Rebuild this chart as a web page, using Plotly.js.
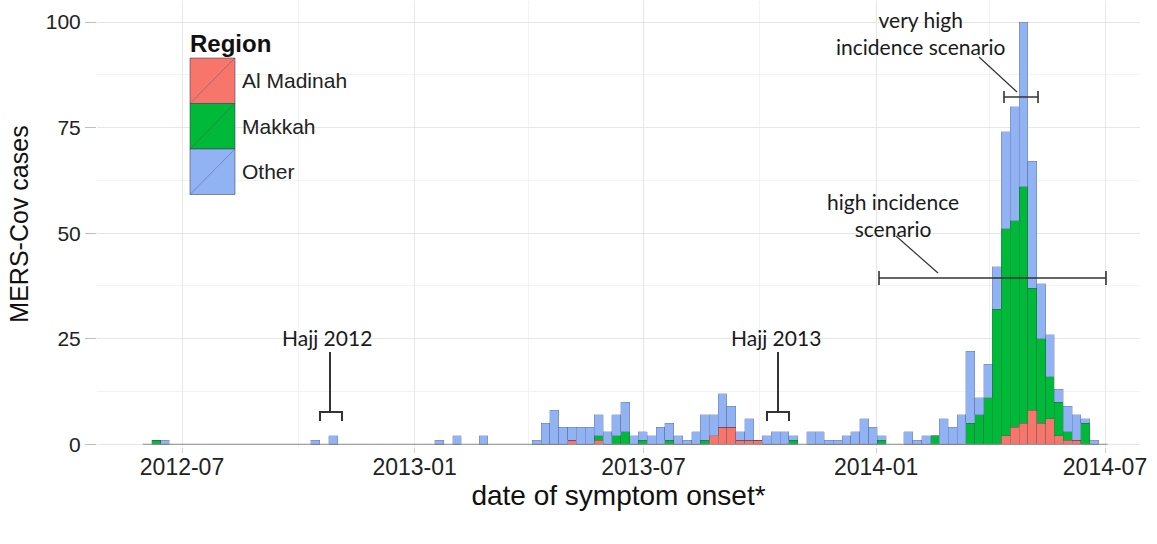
<!DOCTYPE html>
<html>
<head>
<meta charset="utf-8">
<script src="https://cdn.plot.ly/plotly-3.0.1.min.js"></script>
<style>
html,body{margin:0;padding:0;background:#fff;}
#chart{width:1157px;height:544px;}
</style>
</head>
<body>
<div id="chart"></div>
<script>
// ---- data: weekly MERS-CoV case counts (week start dates, 7-day bins) ----
const weekStart = [
 '2012-06-07','2012-06-14','2012-10-11','2012-10-25','2013-01-17','2013-01-31','2013-02-21',
 '2013-04-04','2013-04-11','2013-04-18','2013-04-25','2013-05-02','2013-05-09','2013-05-16','2013-05-23',
 '2013-05-30','2013-06-06','2013-06-13','2013-06-20','2013-06-27','2013-07-04','2013-07-11','2013-07-18',
 '2013-07-25','2013-08-01','2013-08-08','2013-08-15','2013-08-22','2013-08-29','2013-09-05','2013-09-12',
 '2013-09-19','2013-09-26','2013-10-03','2013-10-10','2013-10-17','2013-10-24','2013-11-07','2013-11-14',
 '2013-11-21','2013-11-28','2013-12-05','2013-12-12','2013-12-19','2013-12-26','2014-01-02','2014-01-23',
 '2014-01-30','2014-02-06','2014-02-13','2014-02-20','2014-02-27','2014-03-06','2014-03-13','2014-03-20',
 '2014-03-27','2014-04-03','2014-04-10','2014-04-17','2014-04-24','2014-05-01','2014-05-08','2014-05-15',
 '2014-05-22','2014-05-29','2014-06-05','2014-06-12','2014-06-19'
];
const alMadinah = [
 0,0,0,0,0,0,0,
 0,0,0,0,1,0,0,1,
 0,0,0,0,0,0,0,0,
 0,0,0,0,2,4,4,1,
 1,1,0,0,0,0,0,0,
 0,0,0,0,0,0,0,0,
 0,0,0,0,0,0,0,0,
 0,0,2,4,5,8,5,6,
 2,1,1,0,0
];
const makkah = [
 1,0,0,0,0,0,0,
 0,0,0,0,0,0,0,1,
 0,2,3,0,1,0,0,1,
 0,0,0,1,0,0,0,0,
 0,0,0,0,0,1,0,0,
 0,0,0,0,0,0,1,0,
 0,0,2,0,0,0,5,7,
 11,32,49,49,56,29,20,10,
 8,2,0,5,0
];
const other = [
 0,1,1,2,1,2,2,
 1,5,8,4,3,4,4,5,
 3,5,7,2,2,2,4,4,
 2,1,3,6,5,8,5,2,
 5,0,2,3,3,1,3,3,
 1,1,2,3,6,4,1,3,
 1,2,0,6,4,7,17,4,
 8,10,23,27,39,30,13,10,
 3,6,6,1,1
];
const regions = ['Al Madinah','Makkah','Other'];
const regionColors = ['#F6766C','#00B938','#92B3F3'];
const binWidthDays = 7;
const histStart = '2012-05-31';   // first histogram break
const histEnd   = '2014-07-03';   // last histogram break
const yTickVals = [0,25,50,75,100];
const annotationTexts = ['Hajj 2012','Hajj 2013','very high<br>incidence scenario','high incidence<br>scenario'];

// ---- geometry helpers ----
const W = 1157, H = 544;
const M = {l:97, r:17, t:1, b:97};
const PW = W - M.l - M.r, PH = H - M.t - M.b;
const px = x => (x - M.l) / PW;
const py = y => (H - M.b - y) / PH;
const DAY = 86400000;
const t0 = Date.parse('2012-07-01T00:00:00Z'), t1 = Date.parse('2014-07-01T00:00:00Z');
const msPerPx = (t1 - t0) / (1105 - 182);
const iso = ms => new Date(ms).toISOString().slice(0,19).replace('T',' ');
const xRange = [iso(t0 - (182 - M.l) * msPerPx), iso(t1 + (W - M.r - 1105) * msPerPx)];
const yRange = [-0.65, 105];

const seriesVals = [alMadinah, makkah, other];
const traces = seriesVals.map((vals, i) => ({
  type: 'bar',
  x: weekStart,
  y: vals,
  name: regions[i],
  offset: 0,
  width: weekStart.map(() => binWidthDays * DAY),
  marker: {color: regionColors[i], line: {color: 'rgba(60,60,90,0.35)', width: 0.7}},
  hoverinfo: 'x+y+name',
  showlegend: false
}));
// zero-count bins are drawn as a line along the baseline (histogram range)
traces.unshift({
  type: 'scatter', mode: 'lines', x: [histStart, histEnd], y: [0, 0],
  line: {color: '#8c8c8c', width: 1.2}, hoverinfo: 'skip', showlegend: false, cliponaxis: false
});

const dark = '#333333';
const shapes = [];
const annotations = [];
const lineShape = (x0,y0,x1,y1,w) => shapes.push({type:'line', xref:'paper', yref:'paper',
  x0:px(x0), y0:py(y0), x1:px(x1), y1:py(y1), line:{color:dark, width:w||1.6}});
const pathShape = (pts, w) => shapes.push({type:'path', xref:'paper', yref:'paper',
  path: pts.map((p,k)=> (k?'L':'M') + px(p[0]) + ',' + py(p[1])).join(' '), line:{color:dark, width:w}});
// Hajj 2012
lineShape(330,352,330,412,2);
pathShape([[320,421],[320,412],[342,412],[342,421]], 2);
// Hajj 2013
lineShape(778,352,778,412,2);
pathShape([[767,421],[767,412],[789,412],[789,421]], 2);
// very high incidence scenario
lineShape(979,57,1017,92,1.2);
lineShape(1004,97,1038,97,1.6);
lineShape(1004,91,1004,103,1.6);
lineShape(1038,91,1038,103,1.6);
// high incidence scenario
lineShape(896,236,938,273,1.2);
lineShape(879,278,1106,278,1.6);
lineShape(879,271,879,285,1.6);
lineShape(1106,271,1106,285,1.6);

// legend swatches
const legTop = 58, legH = 45.5, legX0 = 190, legX1 = 235;
regions.forEach((r, i) => {
  const y0 = legTop + i*legH, y1 = y0 + legH;
  shapes.push({type:'rect', xref:'paper', yref:'paper', x0:px(legX0), x1:px(legX1), y0:py(y1), y1:py(y0),
    fillcolor: regionColors[i], line:{color:'rgba(60,60,90,0.55)', width:1}});
  shapes.push({type:'line', xref:'paper', yref:'paper', x0:px(legX0), x1:px(legX1), y0:py(y1), y1:py(y0),
    line:{color:'rgba(60,60,90,0.35)', width:1}});
  annotations.push({xref:'paper', yref:'paper', x:px(240), y:py(y0+legH/2), xanchor:'left', yanchor:'middle',
    text:r, showarrow:false, font:{family:'Liberation Sans, Arial, sans-serif', size:21, color:'#222'}});
});
annotations.push({xref:'paper', yref:'paper', x:px(188), y:py(43), xanchor:'left', yanchor:'middle',
  text:'<b>Region</b>', showarrow:false, font:{family:'Liberation Sans, Arial, sans-serif', size:24, color:'#111'}});

const annFont = {family:'Lato, Open Sans, sans-serif', size:21, color:'#1a1a1a'};
const txt = (t, x, y) => annotations.push({xref:'paper', yref:'paper', x:px(x), y:py(y), xanchor:'center', yanchor:'middle',
  text:t, showarrow:false, font:annFont, align:'center'});
txt(annotationTexts[0], 327, 337);
txt(annotationTexts[1], 776, 337);
txt(annotationTexts[2], 921, 33);
txt(annotationTexts[3], 893, 215);

const layout = {
  width: W, height: H,
  margin: M,
  paper_bgcolor: '#ffffff', plot_bgcolor: '#ffffff',
  barmode: 'stack', bargap: 0,
  font: {family: 'Liberation Sans, Arial, sans-serif', color: '#222'},
  xaxis: {
    type: 'date', range: xRange,
    tick0: '2012-07-01', dtick: 'M6', tickformat: '%Y-%m',
    showgrid: true, gridcolor: '#e6e6e6', gridwidth: 1,
    minor: {dtick: 'M3', tick0: '2012-04-01', showgrid: true, gridcolor: '#f3f3f3', gridwidth: 1},
    ticks: 'outside', ticklen: 5, tickcolor: '#cfcfcf', tickwidth: 1,
    ticklabelstandoff: -6,
    tickfont: {size: 23, color: '#222'},
    zeroline: false, showline: false,
    title: {text: 'date of symptom onset*', font: {size: 28, color: '#111'}, standoff: 4}
  },
  yaxis: {
    range: yRange, tickvals: yTickVals, ticktext: yTickVals.map(String),
    showgrid: true, gridcolor: '#e6e6e6', gridwidth: 1,
    minor: {tickvals: [12.5, 37.5, 62.5, 87.5], showgrid: true, gridcolor: '#f3f3f3', gridwidth: 1},
    ticks: 'outside', ticklen: 11, tickcolor: '#bdbdbd', tickwidth: 1,
    tickfont: {size: 21, color: '#222'},
    zeroline: false, showline: false,
    title: {text: 'MERS-Cov cases', font: {size: 25, color: '#111'}, standoff: 10}
  },
  shapes: shapes,
  annotations: annotations,
  showlegend: false
};

Plotly.newPlot('chart', traces, layout, {displayModeBar: false, staticPlot: true});
</script>
</body>
</html>
